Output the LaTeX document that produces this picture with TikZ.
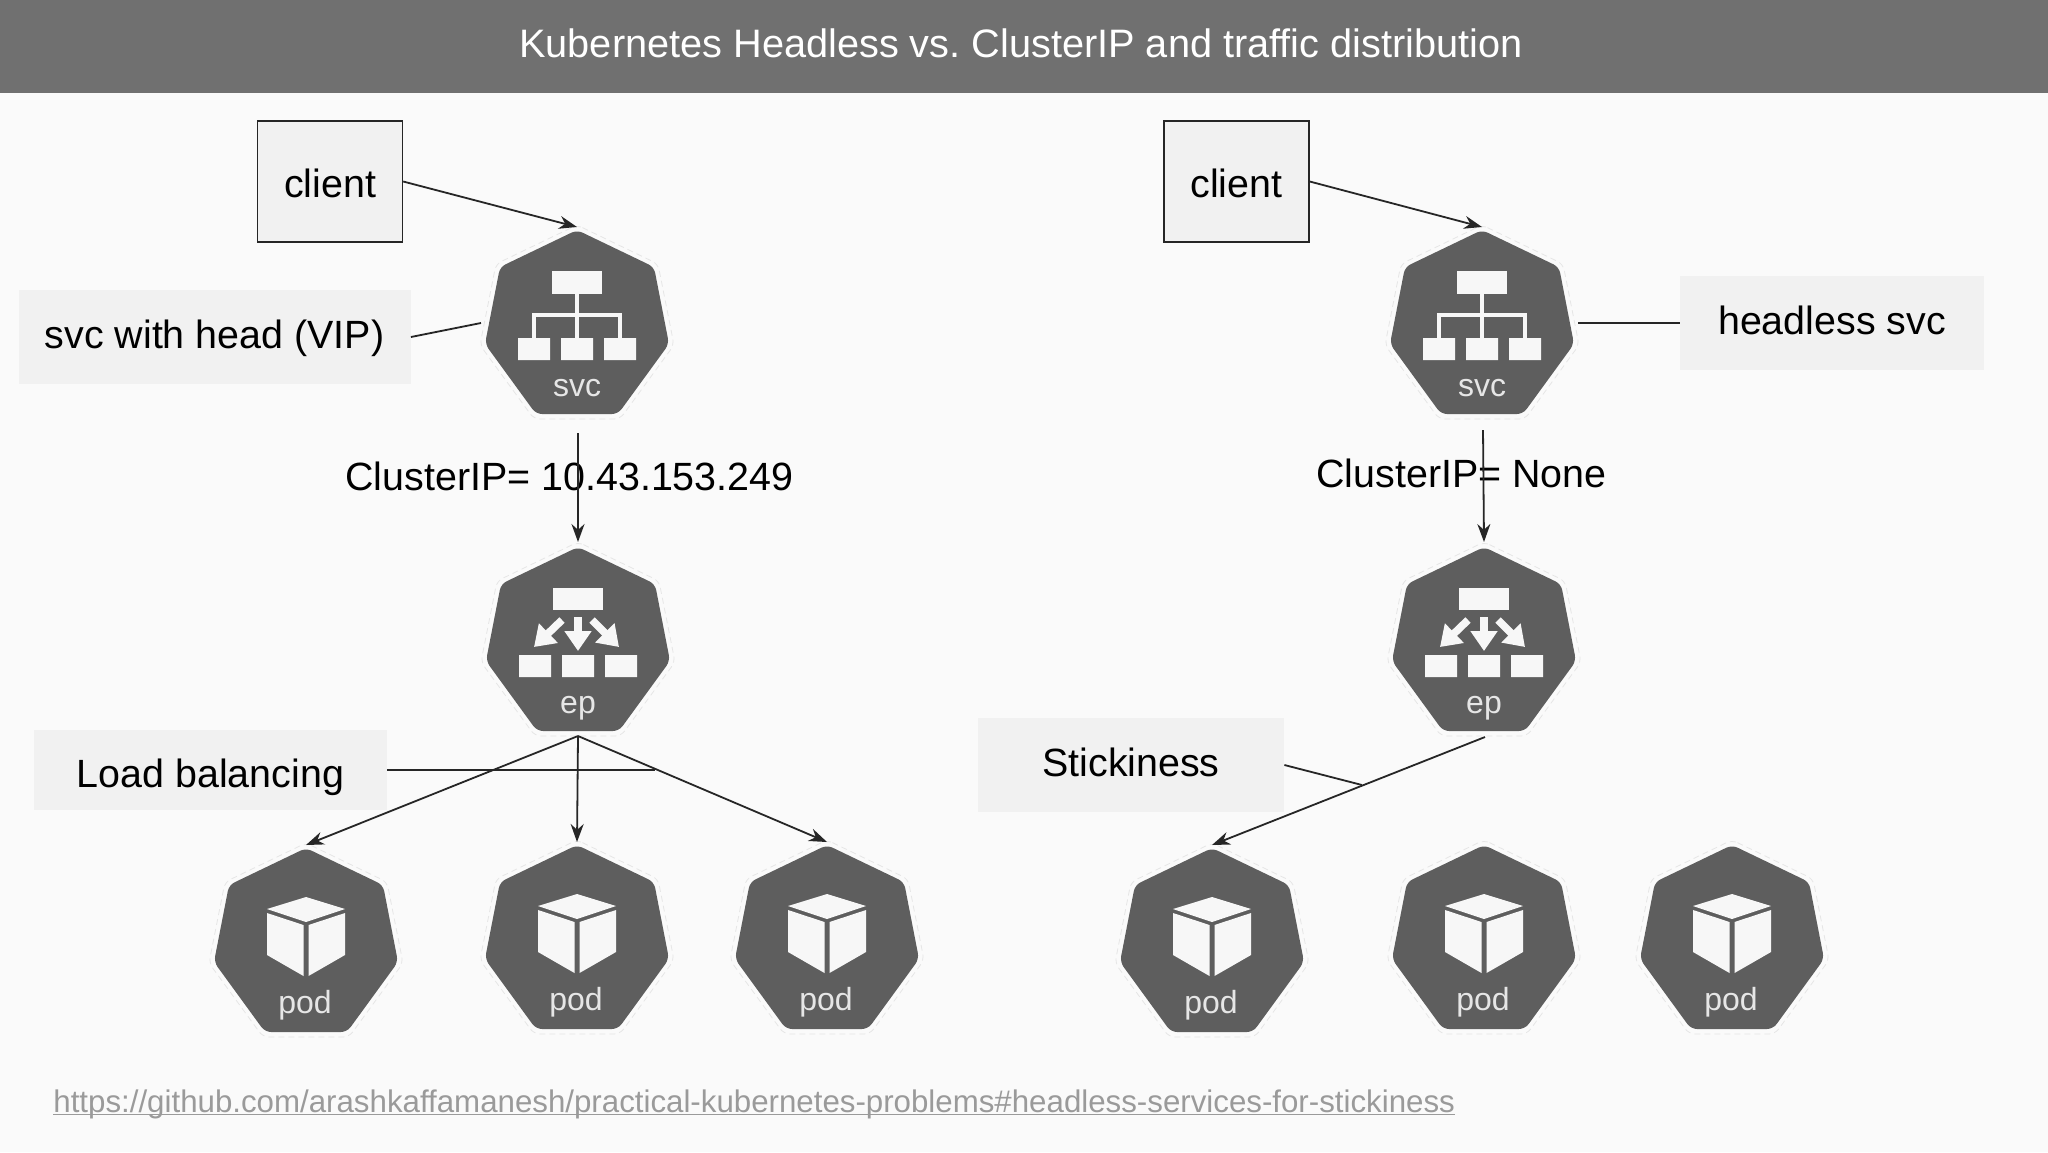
\documentclass[tikz,border=0pt]{standalone}
\usepackage{fontspec}
\setmainfont{Liberation Sans}
\usetikzlibrary{arrows.meta}
\definecolor{bgc}{HTML}{FAFAFA}
\definecolor{barc}{HTML}{707070}
\definecolor{iconc}{HTML}{5E5E5E}
\definecolor{boxc}{HTML}{F1F1F1}
\definecolor{inkc}{HTML}{262626}
\definecolor{glyphc}{HTML}{F7F7F7}
\definecolor{haloc}{HTML}{E6E6E6}
\definecolor{linkc}{HTML}{9A9A9A}
\newcommand{\lbl}[2]{\raisebox{#1}[0pt][0pt]{#2}}
\newlength{\linkw}
\newcommand{\linktext}[1]{\settowidth{\linkw}{#1}\rlap{#1}\rule[-1.5pt]{\linkw}{0.55pt}}
\frenchspacing
\tikzset{
  x=0.5pt,y=-0.5pt,
  conn/.style={draw=inkc,line width=0.9pt},
  arrowconn/.style={conn,-{Stealth[length=9pt,width=6.5pt]}},
  labelbox/.style={fill=boxc,inner sep=0pt,font=\fontsize{19.7}{24}\selectfont,text=black},
  clientbox/.style={labelbox,draw=inkc,line width=0.7pt},
  freetext/.style={inner sep=0pt,font=\fontsize{19.7}{24}\selectfont,text=black},
  glyphtext/.style={inner sep=0pt,text=haloc,font=\fontsize{16}{18}\selectfont},
  glyph/.style={fill=glyphc,draw=none},
  glyphline/.style={draw=glyphc,line width=2.4pt},
  epshaft/.style={draw=glyphc,line width=3.8pt,-{Triangle[length=10pt,width=13pt]}},
  heptagon/.pic={
    \draw[haloc,line width=0.4pt,densely dashed,rounded corners=3pt]
      (0,-7)--(81,32)--(97,113)--(43,187)--(-43,187)--(-97,113)--(-81,32)--cycle;
    \fill[iconc,rounded corners=3pt]
      (0,-2)--(77,35)--(92,112)--(41,182)--(-41,182)--(-92,112)--(-77,35)--cycle;
  },
  svcicon/.pic={
    \pic (-h) {heptagon};
    \coordinate (-top) at (0,-5);
    \coordinate (-bottom) at (1,201);
    \coordinate (-left) at (-96,91);
    \coordinate (-right) at (96,91);
    \fill[glyph] (-25,39) rectangle (25,62);
    \draw[glyphline] (0,62)--(0,106) (-43,106)--(-43,83)--(43,83)--(43,106);
    \fill[glyph] (-59,106) rectangle (-27,128) (-16,106) rectangle (16,128) (27,106) rectangle (59,128);
    \node[glyphtext] (-txt) at (0,156) {svc};
  },
  epicon/.pic={
    \pic (-h) {heptagon};
    \coordinate (-top) at (0,-7);
    \fill[glyph] (-25,39) rectangle (25,61);
    \draw[epshaft] (0,68)--(0,102);
    \draw[epshaft] (-16,71)--(-44,98);
    \draw[epshaft] (14,71)--(41,98);
    \fill[glyph] (-59,106) rectangle (-27,128) (-16,106) rectangle (16,128) (27,106) rectangle (59,128);
    \node[glyphtext] (-txt) at (0,159) {ep};
  },
  podicon/.pic={
    \pic (-h) {heptagon};
    \coordinate (-top) at (0,-5);
    \fill[glyph] (0,47)--(39,59)--(0,72)--(-39,59)--cycle;
    \fill[glyph] (-39,63)--(-2.5,75)--(-2.5,126)--(-39,105)--cycle;
    \fill[glyph] (39,63)--(2.5,75)--(2.5,126)--(39,105)--cycle;
    \node[glyphtext] (-txt) at (-1,155) {pod};
  },
}
\begin{document}
\begin{tikzpicture}
\useasboundingbox (0,0) rectangle (2048,1152);
\fill[bgc] (0,0) rectangle (2048,1152);
\fill[barc] (0,0) rectangle (2048,93);
\node[inner sep=0pt,text=white,font=\fontsize{19.85}{24}\selectfont] (title) at (1021,43) {Kubernetes Headless vs. ClusterIP and traffic distribution};

% left column
\node[clientbox,minimum width=72.5pt,minimum height=60.5pt] (clientL) at (330,181.5) {\lbl{-8pt}{client}};
\pic (svcL) at (577,232) {svcicon};
\node[labelbox,minimum width=196pt,minimum height=47pt] (headL) at (214.5,337) {\lbl{-5.75pt}{svc with head (VIP)}};
\node[freetext] (ipL) at (569.5,476) {ClusterIP= 10.43.153.249};
\pic (epL) at (578,549) {epicon};
\node[labelbox,minimum width=176.5pt,minimum height=40pt] (lbL) at (210.5,770) {\lbl{-8.9pt}{Load balancing}};
\coordinate (fanL) at (578,736);
\coordinate (lbEnd) at (655,770);
\pic (podA) at (306,850) {podicon};
\pic (podB) at (577,847) {podicon};
\pic (podC) at (827,847) {podicon};

% right column
\node[clientbox,minimum width=72.5pt,minimum height=60.5pt] (clientR) at (1236.5,181.5) {\lbl{-8pt}{client}};
\pic (svcR) at (1482,232) {svcicon};
\coordinate (svcRout) at (1483,430);
\node[labelbox,minimum width=152pt,minimum height=47pt] (headR) at (1832,323) {\lbl{-5.85pt}{headless svc}};
\node[freetext] (ipR) at (1461.5,473) {ClusterIP= None};
\pic (epR) at (1484,549) {epicon};
\node[labelbox,minimum width=153pt,minimum height=47pt] (stick) at (1131,765) {\lbl{-5.8pt}{Stickiness}};
\coordinate (fanR) at (1485,737);
\coordinate (stickEnd) at (1362,785);
\pic (podD) at (1212,850) {podicon};
\pic (podE) at (1484,847) {podicon};
\pic (podF) at (1732,847) {podicon};

% connectors
\draw[arrowconn] (clientL.east) -- (svcL-top);
\draw[conn] (headL.east) -- (svcL-left);
\draw[arrowconn] (svcL-bottom) -- (epL-top);
\draw[arrowconn] (fanL) -- (podA-top);
\draw[arrowconn] (fanL) -- (podB-top);
\draw[arrowconn] (fanL) -- (podC-top);
\draw[conn] (lbL.east) -- (lbEnd);
\draw[arrowconn] (clientR.east) -- (svcR-top);
\draw[conn] (headR.west) -- (svcR-right);
\draw[arrowconn] (svcRout) -- (epR-top);
\draw[arrowconn] (fanR) -- (podD-top);
\draw[conn] (stick.east) -- (stickEnd);

\node[inner sep=0pt,anchor=base west,text=linkc,font=\fontsize{15.63}{20}\selectfont] (link) at (53,1112) {\linktext{https://github.com/arashkaffamanesh/practical-kubernetes-problems\#headless-services-for-stickiness}};
\end{tikzpicture}
\end{document}
